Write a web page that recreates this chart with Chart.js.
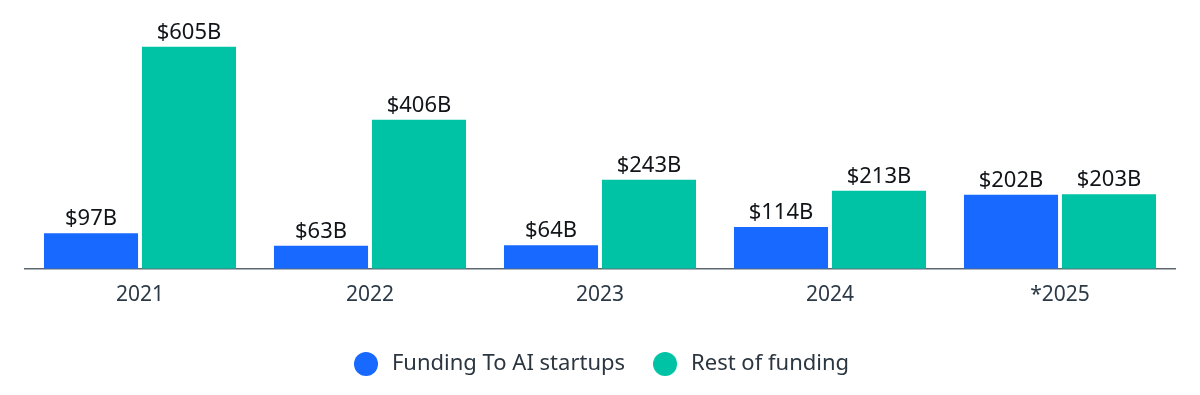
<!DOCTYPE html>
<html>
<head>
<meta charset="utf-8">
<script src="https://cdn.jsdelivr.net/npm/chart.js@4.4.1/dist/chart.umd.min.js"></script>
<style>
  html, body { margin: 0; padding: 0; background: #fff; }
  #wrap { width: 1200px; height: 395px; }
</style>
</head>
<body>
<div id="wrap"><canvas id="fundingChart"></canvas></div>
<script>
// ===============================
// DATOS
// ===============================
const years = ["2021", "2022", "2023", "2024", "*2025"];
const aiFunding = [97, 63, 64, 114, 202];
const restFunding = [605, 406, 243, 213, 203];
const seriesNames = ["Funding To AI startups", "Rest of funding"];

const blue = "#1769ff";
const teal = "#00c2a5";
const fontFamily = "'Noto Sans', sans-serif";

// circulito para la leyenda
function circulo(color) {
  const c = document.createElement("canvas");
  c.width = 24;
  c.height = 24;
  const g = c.getContext("2d");
  g.fillStyle = color;
  g.beginPath();
  g.arc(12, 12, 12, 0, Math.PI * 2);
  g.fill();
  return c;
}

// etiquetas encima de cada barra
const barLabels = {
  id: "barLabels",
  afterDatasetsDraw(chart) {
    const ctx = chart.ctx;
    ctx.save();
    ctx.font = `400 22px ${fontFamily}`;
    ctx.fillStyle = "#111418";
    ctx.textAlign = "center";
    ctx.textBaseline = "alphabetic";
    chart.data.datasets.forEach((ds, i) => {
      chart.getDatasetMeta(i).data.forEach((bar, j) => {
        ctx.fillText(`$${ds.data[j]}B`, bar.x, bar.y - 8);
      });
    });
    ctx.restore();
  },
};

// subir la leyenda un poco
const legendLift = {
  id: "legendLift",
  afterInit(chart) {
    const legend = chart.legend;
    const fit = legend.fit;
    legend.fit = function () {
      fit.call(this);
      this.height += 10;
    };
  },
};

new Chart(document.getElementById("fundingChart"), {
  type: "bar",
  data: {
    labels: years,
    datasets: [
      {
        label: seriesNames[0],
        data: aiFunding,
        backgroundColor: blue,
        barPercentage: 0.96,
        categoryPercentage: 0.852,
      },
      {
        label: seriesNames[1],
        data: restFunding,
        backgroundColor: teal,
        barPercentage: 0.96,
        categoryPercentage: 0.852,
      },
    ],
  },
  options: {
    responsive: true,
    maintainAspectRatio: false,
    animation: false,
    layout: { padding: { top: 12, left: 25, right: 25, bottom: 0 } },
    scales: {
      y: { display: false, min: 0, max: 700 },
      x: {
        grid: { display: false, drawTicks: false },
        border: { display: true, color: "#5f6870", width: 1.5 },
        ticks: {
          color: "#2b3a46",
          padding: 14,
          font: { family: fontFamily, size: 21 },
        },
        afterFit(scale) {
          scale.height += 6;
        },
      },
    },
    plugins: {
      tooltip: { enabled: false },
      legend: {
        position: "bottom",
        labels: {
          usePointStyle: true,
          boxHeight: 17,
          pointStyleWidth: 30,
          padding: 25,
          color: "#2b3640",
          font: { family: fontFamily, size: 22 },
          generateLabels(chart) {
            return chart.data.datasets.map((ds, i) => ({
              text: ds.label,
              datasetIndex: i,
              fillStyle: ds.backgroundColor,
              strokeStyle: ds.backgroundColor,
              lineWidth: 0,
              fontColor: "#2b3640",
              pointStyle: circulo(ds.backgroundColor),
              hidden: false,
            }));
          },
        },
      },
    },
  },
  plugins: [barLabels, legendLift],
});
</script>
</body>
</html>
